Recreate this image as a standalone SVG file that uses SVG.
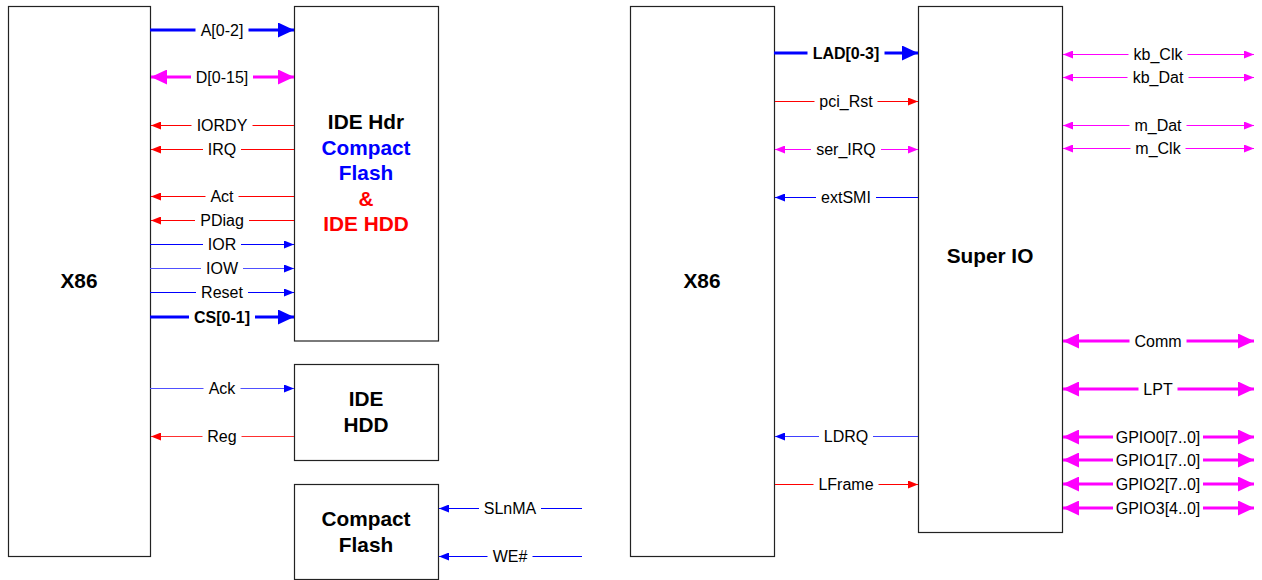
<svg xmlns="http://www.w3.org/2000/svg" width="1262" height="580" viewBox="0 0 1262 580">
<style>
.box{fill:#fff;stroke:#222;stroke-width:1.2}
.title{font-family:"Liberation Sans",Arial,sans-serif;font-weight:bold;font-size:20.8px;text-anchor:middle;fill:#000}
.lbl{font-family:"Liberation Sans",Arial,sans-serif;font-size:16px;text-anchor:middle;fill:#000}
.bold{font-weight:bold}
.bg{fill:#fff}
.bt{stroke:#0000ff;stroke-width:3;fill:none}
.mt{stroke:#ff00ff;stroke-width:3;fill:none}
.b1{stroke:#0000ff;stroke-width:1;fill:none}
.r1{stroke:#ff0000;stroke-width:1;fill:none}
.m1{stroke:#ff00ff;stroke-width:1;fill:none}
.ab{marker-end:url(#mbB)}
.am{marker-start:url(#mmB);marker-end:url(#mmB)}
.abs{marker-end:url(#mbS)}
.ars{marker-end:url(#mrS)}
.ams{marker-start:url(#mmS);marker-end:url(#mmS)}
</style>
<defs>
<marker id="mbB" viewBox="0 0 16 15" refX="16" refY="7.5" markerWidth="16" markerHeight="15" markerUnits="userSpaceOnUse" orient="auto-start-reverse"><path d="M0,0 L16,7.5 L0,15 z" fill="#0000ff"/></marker>
<marker id="mmB" viewBox="0 0 16 15" refX="16" refY="7.5" markerWidth="16" markerHeight="15" markerUnits="userSpaceOnUse" orient="auto-start-reverse"><path d="M0,0 L16,7.5 L0,15 z" fill="#ff00ff"/></marker>
<marker id="mbS" viewBox="0 0 10 8" refX="10" refY="4" markerWidth="10" markerHeight="8" markerUnits="userSpaceOnUse" orient="auto-start-reverse"><path d="M0,0 L10,4 L0,8 z" fill="#0000ff"/></marker>
<marker id="mrS" viewBox="0 0 10 8" refX="10" refY="4" markerWidth="10" markerHeight="8" markerUnits="userSpaceOnUse" orient="auto-start-reverse"><path d="M0,0 L10,4 L0,8 z" fill="#ff0000"/></marker>
<marker id="mmS" viewBox="0 0 10 8" refX="10" refY="4" markerWidth="10" markerHeight="8" markerUnits="userSpaceOnUse" orient="auto-start-reverse"><path d="M0,0 L10,4 L0,8 z" fill="#ff00ff"/></marker>
</defs>
<rect width="1262" height="580" fill="#fff"/>

<g id="x86-left">
<rect class="box" x="8.5" y="6.5" width="142" height="550"/>
<text class="title" x="79" y="288">X86</text>
</g>
<g id="ide-hdr">
<rect class="box" x="294.5" y="6.5" width="144" height="334.5"/>
<text class="title" x="366" y="129">IDE Hdr</text>
<text class="title" x="366" y="154.5" style="fill:#0000ff">Compact</text>
<text class="title" x="366" y="180" style="fill:#0000ff">Flash</text>
<text class="title" x="366" y="205.5" style="fill:#ff0000">&amp;</text>
<text class="title" x="366" y="231" style="fill:#ff0000">IDE HDD</text>
</g>
<g id="ide-hdd">
<rect class="box" x="294.5" y="364.5" width="144" height="96"/>
<text class="title" x="366" y="406">IDE</text>
<text class="title" x="366" y="431.5">HDD</text>
</g>
<g id="compact-flash">
<rect class="box" x="294.5" y="484.5" width="144" height="95"/>
<text class="title" x="366" y="526">Compact</text>
<text class="title" x="366" y="551.5">Flash</text>
</g>
<g id="x86-right">
<rect class="box" x="630.5" y="6.5" width="144" height="550"/>
<text class="title" x="702" y="288">X86</text>
</g>
<g id="super-io">
<rect class="box" x="918.5" y="6.5" width="144" height="526"/>
<text class="title" x="990" y="263">Super IO</text>
</g>

<g id="connectors">
<!-- left X86 to IDE Hdr -->
<g><line class="bt ab" x1="150" y1="30" x2="294" y2="30"/><rect class="bg" x="195.5" y="22" width="53" height="16"/><text class="lbl" x="222" y="35.8">A[0-2]</text></g>
<g><line class="mt am" x1="151" y1="77" x2="294" y2="77"/><rect class="bg" x="191" y="69" width="62" height="16"/><text class="lbl" x="222" y="82.8">D[0-15]</text></g>
<g><line class="r1 ars" x1="294" y1="125.5" x2="151" y2="125.5"/><rect class="bg" x="191.5" y="117.5" width="61" height="16"/><text class="lbl" x="222" y="131.3">IORDY</text></g>
<g><line class="r1 ars" x1="294" y1="149.5" x2="151" y2="149.5"/><rect class="bg" x="203" y="141.5" width="38" height="16"/><text class="lbl" x="222" y="155.3">IRQ</text></g>
<g><line class="r1 ars" x1="294" y1="196.5" x2="151" y2="196.5"/><rect class="bg" x="205.5" y="188.5" width="33" height="16"/><text class="lbl" x="222" y="202.3">Act</text></g>
<g><line class="r1 ars" x1="294" y1="220.5" x2="151" y2="220.5"/><rect class="bg" x="195" y="212.5" width="54" height="16"/><text class="lbl" x="222" y="226.3">PDiag</text></g>
<g><line class="b1 abs" x1="150" y1="244.5" x2="294" y2="244.5"/><rect class="bg" x="203" y="236.5" width="38" height="16"/><text class="lbl" x="222" y="250.3">IOR</text></g>
<g><line class="b1 abs" x1="150" y1="268.5" x2="294" y2="268.5" style="stroke:#5050ff"/><rect class="bg" x="201" y="260.5" width="42" height="16"/><text class="lbl" x="222" y="274.3">IOW</text></g>
<g><line class="b1 abs" x1="150" y1="292.5" x2="294" y2="292.5"/><rect class="bg" x="196" y="284.5" width="52" height="16"/><text class="lbl" x="222" y="298.3">Reset</text></g>
<g><line class="bt ab" x1="150" y1="317" x2="294" y2="317"/><rect class="bg" x="189" y="309" width="66" height="16"/><text class="lbl bold" x="222" y="322.8">CS[0-1]</text></g>
<!-- left X86 to IDE HDD -->
<g><line class="b1 abs" x1="150" y1="388.5" x2="294" y2="388.5" style="stroke:#5050ff"/><rect class="bg" x="203.5" y="380.5" width="37" height="16"/><text class="lbl" x="222" y="394.3">Ack</text></g>
<g><line class="r1 ars" x1="294" y1="436.5" x2="151" y2="436.5" style="stroke:#ff3030"/><rect class="bg" x="202.5" y="428.5" width="39" height="16"/><text class="lbl" x="222" y="442.3">Reg</text></g>
<!-- into Compact Flash -->
<g><line class="b1 abs" x1="582" y1="508.5" x2="439" y2="508.5"/><rect class="bg" x="479" y="500.5" width="62" height="16"/><text class="lbl" x="510" y="514.3">SLnMA</text></g>
<g><line class="b1 abs" x1="582" y1="556.5" x2="439" y2="556.5"/><rect class="bg" x="487.5" y="548.5" width="45" height="16"/><text class="lbl" x="510" y="562.3">WE#</text></g>
<!-- right X86 to Super IO -->
<g><line class="bt ab" x1="774" y1="53" x2="918" y2="53"/><rect class="bg" x="807.5" y="45" width="77" height="16"/><text class="lbl bold" x="846" y="58.8">LAD[0-3]</text></g>
<g><line class="r1 ars" x1="775" y1="101.5" x2="918" y2="101.5"/><rect class="bg" x="814.5" y="93.5" width="63" height="16"/><text class="lbl" x="846" y="107.3">pci_Rst</text></g>
<g><line class="m1 ams" x1="775" y1="149.5" x2="918" y2="149.5"/><rect class="bg" x="811" y="141.5" width="70" height="16"/><text class="lbl" x="846" y="155.3">ser_IRQ</text></g>
<g><line class="b1 abs" x1="918" y1="197.5" x2="775" y2="197.5"/><rect class="bg" x="816" y="189.5" width="60" height="16"/><text class="lbl" x="846" y="203.3">extSMI</text></g>
<g><line class="b1 abs" x1="918" y1="436.5" x2="775" y2="436.5" style="stroke:#4040ff"/><rect class="bg" x="819" y="428.5" width="54" height="16"/><text class="lbl" x="846" y="442.3">LDRQ</text></g>
<g><line class="r1 ars" x1="775" y1="484.5" x2="918" y2="484.5"/><rect class="bg" x="813.5" y="476.5" width="65" height="16"/><text class="lbl" x="846" y="490.3">LFrame</text></g>
<!-- Super IO external -->
<g><line class="m1 ams" x1="1063" y1="54.5" x2="1254" y2="54.5"/><rect class="bg" x="1128.5" y="46.5" width="59" height="16"/><text class="lbl" x="1158" y="60.3">kb_Clk</text></g>
<g><line class="m1 ams" x1="1063" y1="77.5" x2="1254" y2="77.5"/><rect class="bg" x="1127.5" y="69.5" width="61" height="16"/><text class="lbl" x="1158" y="83.3">kb_Dat</text></g>
<g><line class="m1 ams" x1="1063" y1="125.5" x2="1254" y2="125.5"/><rect class="bg" x="1129.5" y="117.5" width="57" height="16"/><text class="lbl" x="1158" y="131.3">m_Dat</text></g>
<g><line class="m1 ams" x1="1063" y1="148.5" x2="1254" y2="148.5"/><rect class="bg" x="1130.5" y="140.5" width="55" height="16"/><text class="lbl" x="1158" y="154.3">m_Clk</text></g>
<g><line class="mt am" x1="1063" y1="341" x2="1254" y2="341"/><rect class="bg" x="1129.5" y="333" width="57" height="16"/><text class="lbl" x="1158" y="346.8">Comm</text></g>
<g><line class="mt am" x1="1063" y1="389" x2="1254" y2="389"/><rect class="bg" x="1138.5" y="381" width="39" height="16"/><text class="lbl" x="1158" y="394.8">LPT</text></g>
<g><line class="mt am" x1="1063" y1="437" x2="1254" y2="437"/><rect class="bg" x="1113" y="429" width="90" height="16"/><text class="lbl" x="1158" y="442.8">GPIO0[7..0]</text></g>
<g><line class="mt am" x1="1063" y1="460" x2="1254" y2="460"/><rect class="bg" x="1113" y="452" width="90" height="16"/><text class="lbl" x="1158" y="465.8">GPIO1[7..0]</text></g>
<g><line class="mt am" x1="1063" y1="484" x2="1254" y2="484"/><rect class="bg" x="1113" y="476" width="90" height="16"/><text class="lbl" x="1158" y="489.8">GPIO2[7..0]</text></g>
<g><line class="mt am" x1="1063" y1="508" x2="1254" y2="508"/><rect class="bg" x="1113" y="500" width="90" height="16"/><text class="lbl" x="1158" y="513.8">GPIO3[4..0]</text></g>
</g>
</svg>
